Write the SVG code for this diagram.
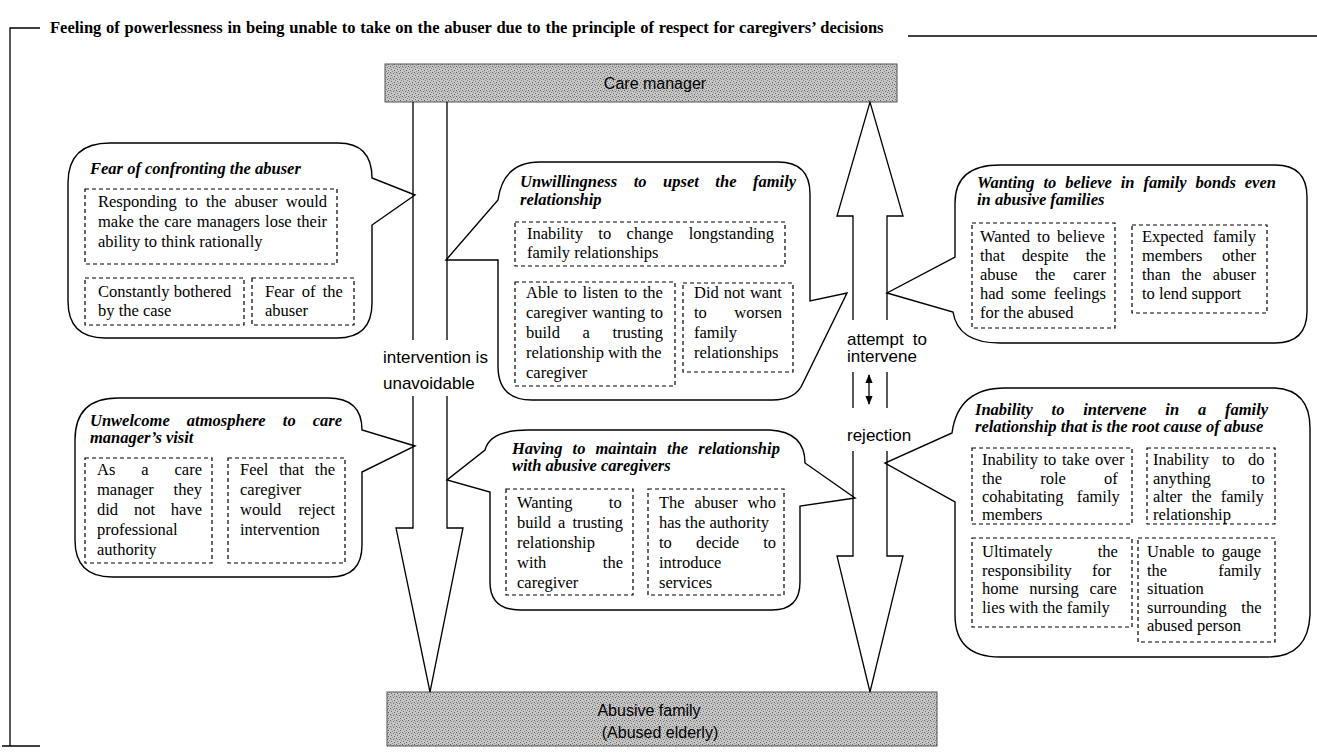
<svg xmlns="http://www.w3.org/2000/svg" width="1317" height="755" viewBox="0 0 1317 755">
<defs>
<pattern id="halftone" width="6" height="6" patternUnits="userSpaceOnUse">
<rect width="6" height="6" fill="#c6c6c6"/>
<rect x="0" y="0" width="1" height="1" fill="#5e5e5e"/>
<rect x="3" y="1" width="1" height="1" fill="#6a6a6a"/>
<rect x="1" y="3" width="1" height="1" fill="#707070"/>
<rect x="4" y="4" width="1" height="1" fill="#5e5e5e"/>
<rect x="5" y="2" width="1" height="1" fill="#888"/>
<rect x="2" y="5" width="1" height="1" fill="#888"/>
<rect x="4" y="0" width="1" height="1" fill="#999"/>
<rect x="1" y="1" width="1" height="1" fill="#a0a0a0"/>
</pattern>
<marker id="ah" viewBox="0 0 10 10" refX="9" refY="5" markerWidth="7" markerHeight="7" orient="auto-start-reverse">
<path d="M0,1 L10,5 L0,9 Z" fill="#000"/>
</marker>
<style>
.ln{fill:none;stroke:#000;stroke-width:1.3}
.bub{fill:#fff;stroke:#000;stroke-width:1.4}
.dash{fill:none;stroke:#000;stroke-width:1.2;stroke-dasharray:4 3}
.t{font-family:"Liberation Serif","Times New Roman",serif;font-size:16.5px}
.h{font-family:"Liberation Serif","Times New Roman",serif;font-size:16.5px;font-weight:bold;font-style:italic}
.s{font-family:"Liberation Sans",Arial,sans-serif;font-size:17px}
.bx{font-family:"Liberation Sans",Arial,sans-serif;font-size:16px}
.ttl{font-family:"Liberation Serif","Times New Roman",serif;font-size:16.5px;font-weight:bold}
.gray{fill:url(#halftone);stroke:#555;stroke-width:1}
</style>
</defs>
<rect width="1317" height="755" fill="#fff"/>

<g id="frame">
<path class="ln" d="M10,746 V28 H40"/>
<path class="ln" d="M2,746 H40"/>
<text class="ttl" x="50" y="33" style="word-spacing:0.65px">Feeling of powerlessness in being unable to take on the abuser due to the principle of respect for caregivers&#8217; decisions</text>
<path class="ln" d="M908,36 H1317"/>
</g>

<g id="care-manager">
<rect class="gray" x="385" y="64" width="512" height="38"/>
<text class="bx" x="655" y="89" text-anchor="middle">Care manager</text>
</g>

<g id="abusive-family">
<rect class="gray" x="387" y="692" width="550" height="54"/>
<text class="bx" x="649" y="716" text-anchor="middle">Abusive family</text>
<text class="bx" x="660" y="738" text-anchor="middle">(Abused elderly)</text>
</g>

<g id="fear-bubble">
<path class="bub" d="M110,143 H338 Q372,143 372,178 L415,195 L372,225 V303 Q372,338 337,338 H105 Q68,338 68,301 V183 Q68,143 110,143 Z"/>
<text class="h" x="90" y="174">Fear of confronting the abuser</text>
<rect class="dash" x="85" y="189" width="252" height="75"/>
<text class="t" x="98" y="207" style="word-spacing:4.1px">Responding to the abuser would</text>
<text class="t" x="98" y="227" style="word-spacing:1px">make the care managers lose their</text>
<text class="t" x="98" y="247">ability to think rationally</text>
<rect class="dash" x="85" y="278" width="159" height="47"/>
<text class="t" x="98" y="297">Constantly bothered</text>
<text class="t" x="98" y="316">by the case</text>
<rect class="dash" x="252" y="278" width="102" height="47"/>
<text class="t" x="265" y="297" style="word-spacing:3.2px">Fear of the</text>
<text class="t" x="265" y="316">abuser</text>
</g>

<g id="unwillingness-bubble">
<path class="bub" d="M540,162 H778 Q810,162 810,194 V301 L847,293 L803,383 Q796,400 772,400 H532 Q498,400 498,366 V260 H446 L498,200 Q503,162 540,162 Z"/>
<text class="h" x="520" y="187" style="word-spacing:12.4px">Unwillingness to upset the family</text>
<text class="h" x="520" y="205">relationship</text>
<rect class="dash" x="515" y="222" width="270" height="44"/>
<text class="t" x="527" y="239" style="word-spacing:11.3px">Inability to change longstanding</text>
<text class="t" x="527" y="258">family relationships</text>
<rect class="dash" x="515" y="282" width="160" height="104"/>
<text class="t" x="526" y="298" style="word-spacing:1.7px">Able to listen to the</text>
<text class="t" x="526" y="318" style="word-spacing:0.7px">caregiver wanting to</text>
<text class="t" x="526" y="338" style="word-spacing:18.5px">build a trusting</text>
<text class="t" x="526" y="358">relationship with the</text>
<text class="t" x="526" y="378">caregiver</text>
<rect class="dash" x="683" y="283" width="110" height="89"/>
<text class="t" x="694" y="298" style="word-spacing:0.9px">Did not want</text>
<text class="t" x="694" y="318" style="word-spacing:23.4px">to worsen</text>
<text class="t" x="694" y="338">family</text>
<text class="t" x="694" y="358">relationships</text>
</g>

<g id="wanting-bubble">
<path class="bub" d="M1000,165 H1275 Q1307,165 1307,197 V311 Q1307,343 1275,343 H1000 Q958,343 953,312 L887,293 L955,257 V203 Q955,165 1000,165 Z"/>
<text class="h" x="977" y="188" style="word-spacing:4.8px">Wanting to believe in family bonds even</text>
<text class="h" x="977" y="205">in abusive families</text>
<rect class="dash" x="972" y="223" width="143" height="105"/>
<text class="t" x="980" y="242" style="word-spacing:3px">Wanted to believe</text>
<text class="t" x="980" y="261" style="word-spacing:13px">that despite the</text>
<text class="t" x="980" y="280" style="word-spacing:13.5px">abuse the carer</text>
<text class="t" x="980" y="299" style="word-spacing:3.4px">had some feelings</text>
<text class="t" x="980" y="318">for the abused</text>
<rect class="dash" x="1132" y="225" width="135" height="88"/>
<text class="t" x="1142" y="242" style="word-spacing:5.4px">Expected family</text>
<text class="t" x="1142" y="261" style="word-spacing:15.5px">members other</text>
<text class="t" x="1142" y="280" style="word-spacing:7px">than the abuser</text>
<text class="t" x="1142" y="299">to lend support</text>
</g>

<g id="unwelcome-bubble">
<path class="bub" d="M118,398 H328 Q362,398 362,430 L415,446 L362,472 V545 Q362,577 330,577 H112 Q75,577 75,540 V440 Q75,398 118,398 Z"/>
<text class="h" x="90" y="426" style="word-spacing:13px">Unwelcome atmosphere to care</text>
<text class="h" x="90" y="443">manager&#8217;s visit</text>
<rect class="dash" x="85" y="458" width="127" height="105"/>
<text class="t" x="97" y="475" style="word-spacing:21.8px">As a care</text>
<text class="t" x="97" y="495" style="word-spacing:15.7px">manager they</text>
<text class="t" x="97" y="515" style="word-spacing:11.7px">did not have</text>
<text class="t" x="97" y="535">professional</text>
<text class="t" x="97" y="555">authority</text>
<rect class="dash" x="228" y="458" width="117" height="105"/>
<text class="t" x="240" y="475" style="word-spacing:6.7px">Feel that the</text>
<text class="t" x="240" y="495">caregiver</text>
<text class="t" x="240" y="515" style="word-spacing:13px">would reject</text>
<text class="t" x="240" y="535">intervention</text>
</g>

<g id="having-bubble">
<path class="bub" d="M528,430 H770 Q805,432 805,463 L855,498 L800,506 V582 Q800,610 772,610 H520 Q490,610 490,582 V492 L447,480 L485,450 Q490,430 528,430 Z"/>
<text class="h" x="512" y="454" style="word-spacing:6px">Having to maintain the relationship</text>
<text class="h" x="512" y="471">with abusive caregivers</text>
<rect class="dash" x="506" y="489" width="127" height="106"/>
<text class="t" x="517" y="508" style="word-spacing:32.2px">Wanting to</text>
<text class="t" x="517" y="528" style="word-spacing:3px">build a trusting</text>
<text class="t" x="517" y="548">relationship</text>
<text class="t" x="517" y="568" style="word-spacing:52.4px">with the</text>
<text class="t" x="517" y="588">caregiver</text>
<rect class="dash" x="648" y="489" width="136" height="106"/>
<text class="t" x="659" y="508" style="word-spacing:5.8px">The abuser who</text>
<text class="t" x="659" y="528">has the authority</text>
<text class="t" x="659" y="548" style="word-spacing:20px">to decide to</text>
<text class="t" x="659" y="568">introduce</text>
<text class="t" x="659" y="588">services</text>
</g>

<g id="inability-bubble">
<path class="bub" d="M1005,388 H1275 Q1310,390 1310,428 V615 Q1308,657 1268,657 H1000 Q955,657 955,615 V502 L885,463 L952,433 Q958,388 1005,388 Z"/>
<text class="h" x="975" y="415" style="word-spacing:14.7px">Inability to intervene in a family</text>
<text class="h" x="975" y="432">relationship that is the root cause of abuse</text>
<rect class="dash" x="972" y="448" width="160" height="76"/>
<text class="t" x="982" y="465" style="word-spacing:1.5px">Inability to take over</text>
<text class="t" x="982" y="484" style="word-spacing:34px">the role of</text>
<text class="t" x="982" y="502" style="word-spacing:9px">cohabitating family</text>
<text class="t" x="982" y="520">members</text>
<rect class="dash" x="1147" y="448" width="128" height="76"/>
<text class="t" x="1153" y="465" style="word-spacing:9px">Inability to do</text>
<text class="t" x="1153" y="484" style="word-spacing:37px">anything to</text>
<text class="t" x="1153" y="502" style="word-spacing:5px">alter the family</text>
<text class="t" x="1153" y="520">relationship</text>
<rect class="dash" x="972" y="538" width="160" height="89"/>
<text class="t" x="982" y="557" style="word-spacing:41px">Ultimately the</text>
<text class="t" x="982" y="576" style="word-spacing:16px">responsibility for</text>
<text class="t" x="982" y="594" style="word-spacing:6.5px">home nursing care</text>
<text class="t" x="982" y="613">lies with the family</text>
<rect class="dash" x="1138" y="538" width="137" height="104"/>
<text class="t" x="1147" y="557" style="word-spacing:3px">Unable to gauge</text>
<text class="t" x="1147" y="576" style="word-spacing:47px">the family</text>
<text class="t" x="1147" y="594">situation</text>
<text class="t" x="1147" y="613" style="word-spacing:10.5px">surrounding the</text>
<text class="t" x="1147" y="631">abused person</text>
</g>

<g id="connectors">
<path class="ln" d="M413,102 V340 M447,102 V340"/>
<path class="ln" d="M413,396 V528 H396 L430,692 L463,528 H447 V396"/>
<text class="s" x="383" y="363">intervention is</text>
<text class="s" x="383" y="389">unavoidable</text>
<path class="ln" d="M853,320 V216 H837 L870,102 L903,216 H887 V320"/>
<path class="ln" d="M853,372 V408 M887,372 V408"/>
<path class="ln" d="M853,451 V556 H837 L870,692 L903,556 H887 V451"/>
<text class="s" x="847" y="345" style="word-spacing:4.4px">attempt to</text>
<text class="s" x="847" y="362">intervene</text>
<line class="ln" x1="869" y1="375" x2="869" y2="404" stroke-width="1.6" marker-start="url(#ah)" marker-end="url(#ah)"/>
<text class="s" x="847" y="441">rejection</text>
</g>
</svg>
